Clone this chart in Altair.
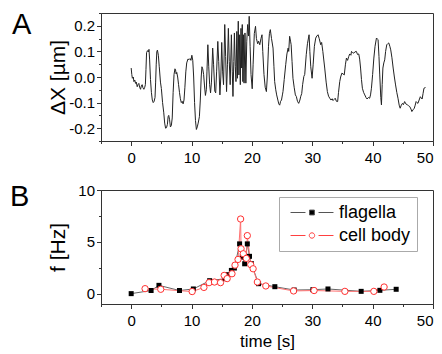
import altair as alt
import pandas as pd

# ---------------- data ----------------
time_a = [0.00, 0.10, 0.20, 0.35, 0.45, 0.60, 0.72, 0.85, 1.00, 1.12, 1.27, 1.40, 1.55, 1.68, 1.82, 1.95,
          2.10, 2.25, 2.35, 2.45, 2.55, 2.70, 2.85, 2.95, 3.05, 3.20, 3.35, 3.50, 3.65, 3.80, 3.95, 4.05,
          4.15, 4.25, 4.35, 4.50, 4.65, 4.85, 5.00, 5.20, 5.40, 5.55, 5.70, 5.85, 6.00, 6.12, 6.22, 6.35,
          6.50, 6.65, 6.80, 6.95, 7.10, 7.25, 7.35, 7.45, 7.55, 7.70, 7.85, 8.00, 8.15, 8.30, 8.45, 8.60,
          8.75, 8.90, 9.05, 9.20, 9.40, 9.60, 9.75, 9.90, 10.05, 10.20, 10.35, 10.50, 10.65, 10.80, 10.95,
          11.10, 11.30, 11.45, 11.60, 11.72, 11.85, 12.00, 12.15, 12.30, 12.45, 12.55, 12.70, 12.85, 13.00,
          13.15, 13.30, 13.50, 13.65, 13.85, 14.00, 14.15, 14.35, 14.50, 14.70, 14.85, 15.00, 15.15, 15.30,
          15.50, 15.65, 15.80, 15.95, 16.10, 16.25, 16.40, 16.60, 16.75, 16.86, 17.00, 17.10, 17.25, 17.36,
          17.50, 17.60, 17.74, 17.85, 17.97, 18.08, 18.19, 18.30, 18.40, 18.50, 18.60, 18.70, 18.85, 19.00,
          19.15, 19.30, 19.45, 19.55, 19.70, 19.85, 20.05, 20.20, 20.40, 20.60, 20.75, 20.95, 21.10, 21.30,
          21.50, 21.67, 21.80, 22.00, 22.20, 22.40, 22.55, 22.75, 22.90, 23.05, 23.25, 23.50, 23.65, 23.77,
          23.95, 24.10, 24.30, 24.45, 24.60, 24.75, 24.90, 25.05, 25.15, 25.35, 25.60, 25.80, 26.00, 26.10,
          26.25, 26.40, 26.50, 26.65, 26.80, 27.00, 27.20, 27.36, 27.55, 27.75, 27.95, 28.10, 28.25, 28.40,
          28.60, 28.75, 29.00, 29.20, 29.47, 29.60, 29.75, 29.97, 30.15, 30.35, 30.57, 30.75, 30.96, 31.15,
          31.40, 31.55, 31.75, 32.06, 32.30, 32.50, 32.70, 32.90, 33.10, 33.30, 33.44, 33.60, 33.80, 34.00,
          34.20, 34.35, 34.55, 34.70, 34.90, 35.10, 35.30, 35.50, 35.66, 35.85, 36.04, 36.20, 36.40, 36.50,
          36.70, 36.87, 37.05, 37.30, 37.50, 37.70, 37.85, 38.00, 38.15, 38.30, 38.50, 38.70, 38.90, 39.08,
          39.30, 39.50, 39.65, 39.80, 40.00, 40.20, 40.40, 40.63, 40.80, 40.90, 41.05, 41.18, 41.35, 41.46,
          41.58, 41.70, 41.85, 42.00, 42.15, 42.34, 42.50, 42.67, 42.85, 43.00, 43.20, 43.40, 43.60, 43.80,
          44.00, 44.20, 44.40, 44.56, 44.75, 44.94, 45.10, 45.30, 45.50, 45.77, 45.95, 46.16, 46.35, 46.50,
          46.70, 46.90, 47.05, 47.20, 47.35, 47.50, 47.70, 47.90, 48.05, 48.20, 48.35, 48.50, 48.76]
dx_a = [0.035, 0.010, -0.005, 0.000, -0.018, -0.012, -0.025, -0.020, -0.038, -0.030, -0.025, -0.040, -0.048,
        -0.035, -0.030, -0.042, -0.048, -0.040, -0.030, 0.030, 0.095, 0.103, 0.098, 0.108, 0.070, -0.010,
        -0.060, -0.090, -0.100, -0.095, -0.080, -0.020, 0.050, 0.100, 0.105, 0.085, 0.040, -0.020, -0.045,
        -0.100, -0.140, -0.180, -0.200, -0.198, -0.185, -0.155, -0.150, -0.165, -0.195, -0.190, -0.160,
        -0.060, 0.010, 0.032, 0.028, 0.012, 0.018, 0.000, -0.030, -0.060, -0.085, -0.100, -0.095, -0.105,
        -0.090, -0.040, 0.020, 0.055, 0.070, 0.068, 0.072, 0.065, 0.085, 0.065, 0.000, -0.100, -0.170,
        -0.205, -0.195, -0.180, -0.155, -0.090, 0.000, 0.040, 0.032, 0.010, -0.035, -0.072, -0.050, 0.020,
        0.126, 0.040, -0.030, -0.062, -0.020, 0.113, 0.050, -0.055, -0.062, 0.020, 0.139, 0.060, -0.070,
        0.000, 0.135, 0.020, -0.030, 0.205, 0.080, -0.057, 0.050, 0.190, 0.060, -0.030, 0.165, 0.020,
        -0.076, 0.060, 0.172, 0.040, -0.018, 0.178, -0.005, 0.218, 0.008, 0.165, -0.030, 0.190, 0.035,
        0.205, -0.018, 0.165, -0.024, 0.172, -0.024, 0.140, 0.205, 0.160, 0.237, 0.120, 0.010, -0.046,
        0.050, 0.170, 0.198, 0.150, 0.130, 0.140, 0.126, 0.150, 0.165, 0.100, 0.010, -0.040, -0.057,
        0.000, 0.120, 0.170, 0.185, 0.150, 0.113, 0.040, -0.018, -0.050, -0.070, -0.090, -0.105, -0.110,
        -0.095, -0.090, -0.070, -0.057, -0.010, 0.048, 0.090, 0.113, 0.100, 0.159, 0.140, 0.126, 0.060,
        -0.005, -0.040, -0.070, -0.076, -0.095, -0.103, -0.090, -0.075, -0.065, -0.030, 0.002, 0.010,
        0.087, 0.130, 0.165, 0.100, 0.040, -0.005, 0.050, 0.120, 0.152, 0.160, 0.165, 0.150, 0.126, 0.135,
        0.100, 0.035, -0.020, -0.057, -0.075, -0.083, -0.090, -0.085, -0.092, -0.088, -0.083, -0.095,
        -0.096, -0.060, -0.018, 0.000, 0.015, 0.012, 0.008, 0.050, 0.074, 0.065, 0.080, 0.090, 0.085,
        0.100, 0.095, 0.093, 0.098, 0.100, 0.088, 0.090, 0.070, 0.035, -0.010, -0.044, -0.060, -0.070,
        -0.080, -0.086, -0.080, -0.083, -0.070, -0.044, 0.010, 0.074, 0.120, 0.152, 0.148, 0.146, 0.080,
        0.008, -0.080, -0.109, -0.030, 0.035, 0.055, 0.067, 0.100, 0.126, 0.130, 0.133, 0.120, 0.106,
        0.075, 0.035, 0.000, -0.031, -0.060, -0.083, -0.110, -0.122, -0.110, -0.103, -0.108, -0.096,
        -0.105, -0.109, -0.112, -0.116, -0.125, -0.135, -0.128, -0.122, -0.110, -0.096, -0.100, -0.103,
        -0.090, -0.077, -0.082, -0.086, -0.065, -0.044, -0.041]

series_names = ["flagella", "cell body"]
time_flag = [0.0, 3.3, 4.6, 8.0, 10.3, 13.0, 15.5, 16.0, 16.6, 17.1, 17.96, 18.4, 18.8, 19.24, 19.6, 19.9,
             21.1, 23.8, 27.0, 30.1, 32.6, 38.1, 41.2, 43.9]
f_flag = [0.0, 0.3, 0.8, 0.3, 0.45, 1.25, 1.44, 1.83, 2.24, 2.47, 4.8, 3.53, 2.88, 4.8, 3.6, 2.9,
          0.96, 0.67, 0.35, 0.38, 0.45, 0.22, 0.32, 0.42]
time_cell = [2.3, 4.9, 10.1, 12.05, 12.9, 13.8, 14.8, 15.4, 15.9, 16.7, 17.2, 17.7, 18.13, 18.2, 18.57,
             19.07, 19.24, 19.8, 20.2, 20.9, 22.3, 26.9, 30.3, 35.4, 40.2, 41.9]
f_cell = [0.48, 0.42, 0.2, 0.6, 1.06, 1.12, 1.06, 1.76, 1.45, 1.92, 2.75, 3.3, 7.2, 4.33, 3.85,
          3.4, 5.6, 2.8, 2.4, 1.12, 0.74, 0.26, 0.3, 0.22, 0.22, 0.64]

panel_labels = ["A", "B"]
x_ticks = [-5, 0, 5, 10, 15, 20, 25, 30, 35, 40, 45, 50]
ya_ticks = [-0.25, -0.2, -0.15, -0.1, -0.05, 0.0, 0.05, 0.1, 0.15, 0.2, 0.25]
yb_ticks = [0, 2.5, 5, 7.5, 10]

# ---------------- frames ----------------
df_a = pd.DataFrame({"t": time_a, "dx": dx_a})
df_b = pd.concat([
    pd.DataFrame({"t": time_flag, "f": f_flag, "series": series_names[0]}),
    pd.DataFrame({"t": time_cell, "f": f_cell, "series": series_names[1]}),
], ignore_index=True)

FONT = "Liberation Sans"
AX = "#333333"

common_axis = dict(grid=False, domainColor=AX, tickColor=AX, tickWidth=1, domainWidth=1,
                   labelFont=FONT, labelFontSize=15, labelColor="black", titleFont=FONT,
                   titleFontWeight="normal", titleColor="black")


def x_axis(title=None):
    kw = dict(common_axis)
    if title:
        kw.update(title=title, titleFontSize=17, titlePadding=5)
    else:
        kw.update(title=None)
    return alt.Axis(values=x_ticks,
                    labelExpr="datum.value % 10 === 0 ? datum.label : ''",
                    tickSize={"condition": {"test": "datum.value % 10 !== 0", "value": 2.5}, "value": 4.5},
                    labelPadding=5, **kw)


x_scale = alt.Scale(domain=[-5, 50], nice=False, zero=False)

# ---------------- panel A ----------------
ya_axis = alt.Axis(values=ya_ticks,
                   labelExpr="round(datum.value*100) % 10 === 0 ? replace(format(datum.value, '.1f'), '\u2212', '-') : ''",
                   tickSize={"condition": {"test": "round(datum.value*100) % 10 !== 0", "value": 2.5}, "value": 4.5},
                   labelPadding=2, title="ΔX [µm]", titleFontSize=21, titleX=-33, **common_axis)

line_a = alt.Chart(df_a).mark_line(color="#222222", strokeWidth=1).encode(
    x=alt.X("t:Q", scale=x_scale, axis=x_axis()),
    y=alt.Y("dx:Q", scale=alt.Scale(domain=[-0.25, 0.25], nice=False, zero=False), axis=ya_axis),
)
label_a = alt.Chart(pd.DataFrame({"lab": [panel_labels[0]]})).mark_text(
    font=FONT, fontSize=29, align="left", baseline="alphabetic", color="black"
).encode(text="lab:N", x=alt.value(-89), y=alt.value(21))

panel_a = alt.layer(line_a, label_a).properties(width=332, height=128)

# ---------------- panel B ----------------
yb_axis = alt.Axis(values=yb_ticks,
                   labelExpr="datum.value % 5 === 0 ? datum.label : ''",
                   tickSize={"condition": {"test": "datum.value % 5 !== 0", "value": 2.5}, "value": 4.5},
                   labelPadding=2, title="f [Hz]", titleFontSize=21, titleX=-33, **common_axis)

xb = alt.X("t:Q", scale=x_scale, axis=x_axis("time [s]"))
yb = alt.Y("f:Q", scale=alt.Scale(domain=[-1, 10], nice=False, zero=False), axis=yb_axis)

# line colours: domain listed in reverse order so this (legend-less) scale is not merged with the legend
lines_b = alt.Chart(df_b).mark_line(strokeWidth=1).encode(
    x=xb, y=yb,
    color=alt.Color("series:N", scale=alt.Scale(domain=series_names[::-1], range=["#ff7070", "#666666"]),
                    legend=None),
)
pts_flag = alt.Chart(df_b).transform_filter(alt.datum.series == series_names[0]).mark_point(
    shape="square", filled=True, color="black", size=25, opacity=1).encode(x=xb, y=yb)
pts_cell = alt.Chart(df_b).transform_filter(alt.datum.series == series_names[1]).mark_point(
    shape="circle", filled=False, fill="white", stroke="#ff3030", strokeWidth=1, size=40, opacity=1
).encode(x=xb, y=yb)

path_flag = "M-0.44,0H1.22M2.67,0H4.33M1.67,-0.27H2.21V0.27H1.67Z"
path_cell = "M-0.44,0H1.22M2.67,0H4.33M2.24,0A0.3,0.3,0,1,1,1.64,0A0.3,0.3,0,1,1,2.24,0Z"

# the legend is placed in the coordinates of the whole figure (origin = top-left of panel A's plot)
leg = alt.Legend(title=None, orient="none", legendX=178, legendY=184, symbolSize=324,
                 symbolStrokeWidth=1, symbolOpacity=1, labelFont=FONT, labelFontSize=18,
                 labelColor="black", labelOffset=35, strokeColor="#aaaaaa", fillColor="white",
                 padding=6, rowPadding=4)

# legend-only layer: no rows drawn, the legend comes from the explicit scale domains
legend_layer = alt.Chart(df_b).transform_filter("false").mark_point(opacity=1).encode(
    x=xb, y=yb,
    shape=alt.Shape("series:N", scale=alt.Scale(domain=series_names, range=[path_flag, path_cell]), legend=leg),
    fill=alt.Fill("series:N", scale=alt.Scale(domain=series_names, range=["black", "white"]), legend=leg),
    stroke=alt.Stroke("series:N", scale=alt.Scale(domain=series_names, range=["#555555", "#ff4040"]), legend=leg),
)

label_b = alt.Chart(pd.DataFrame({"lab": [panel_labels[1]]})).mark_text(
    font=FONT, fontSize=29, align="left", baseline="alphabetic", color="black"
).encode(text="lab:N", x=alt.value(-91), y=alt.value(16))

panel_b = alt.layer(lines_b, pts_flag, pts_cell, legend_layer, label_b).properties(width=332, height=114)

chart = alt.vconcat(panel_a, panel_b, spacing=16).properties(
    padding={"left": 1, "top": 2, "right": 0, "bottom": 0}
).configure(background="white").configure_view(stroke=AX, strokeWidth=1)

chart.save("out.html", embed_options={"renderer": "svg", "actions": False})
